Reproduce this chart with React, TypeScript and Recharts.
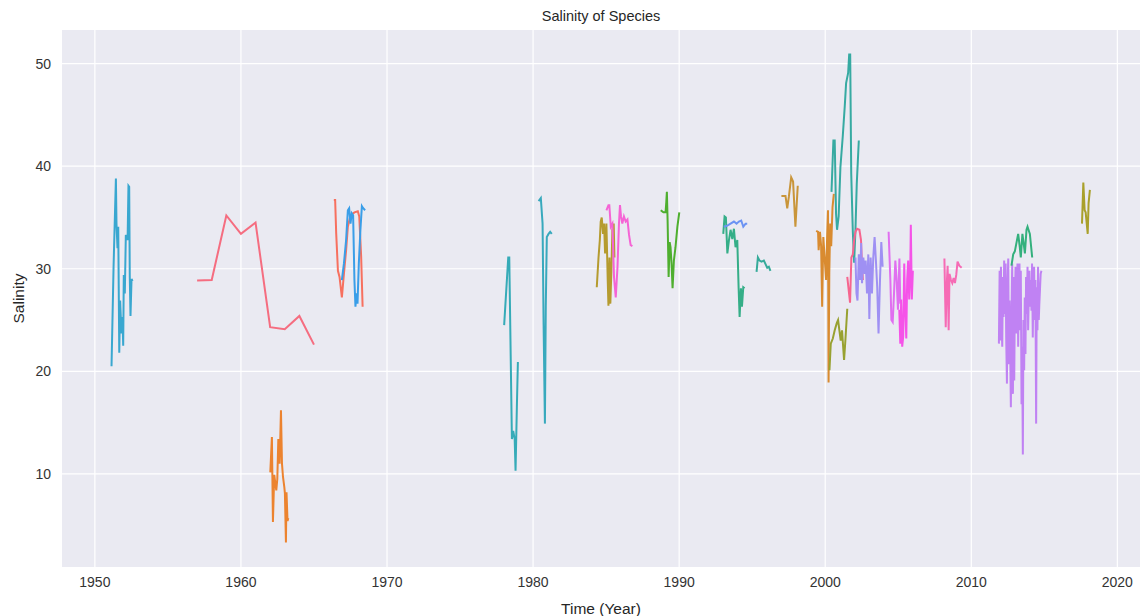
import React from 'react';
import { LineChart, Line, XAxis, YAxis, CartesianGrid } from 'recharts';

// each species: [year, salinity]
const sp1951 = [
  [1951.14, 20.5], [1951.28, 30.2], [1951.44, 38.8], [1951.48, 34.4], [1951.55, 32.0], [1951.6, 34.1],
  [1951.67, 21.8], [1951.73, 26.9], [1951.82, 23.7], [1951.89, 25.3], [1951.94, 22.5], [1951.98, 29.4],
  [1952.05, 27.6], [1952.12, 33.3], [1952.24, 32.8], [1952.3, 38.1], [1952.35, 38.0], [1952.39, 29.2],
  [1952.44, 25.4], [1952.51, 29.0], [1952.58, 28.8],
];
const sp1957 = [
  [1957, 28.85], [1958, 28.9], [1959, 35.2], [1960, 33.4], [1961, 34.5], [1962, 24.3], [1963, 24.1],
  [1964, 25.4], [1965, 22.6],
];
const sp1962 = [
  [1962.01, 10.15], [1962.12, 13.6], [1962.19, 5.3], [1962.28, 9.9], [1962.42, 8.4], [1962.49, 9.5],
  [1962.56, 13.4], [1962.65, 11.0], [1962.74, 16.2], [1962.81, 11.0], [1962.88, 9.7], [1962.97, 8.7],
  [1963.01, 8.1], [1963.08, 3.3], [1963.12, 8.2], [1963.19, 5.4], [1963.24, 5.7],
];
const sp1966 = [
  [1966.36, 36.7], [1966.45, 36.7], [1966.52, 33.5], [1966.64, 29.8], [1966.75, 29.2], [1966.91, 27.2],
  [1967.05, 29.5], [1967.2, 31.8], [1967.32, 34.1], [1967.5, 35.2], [1967.77, 35.5], [1968.0, 35.6],
  [1968.1, 35.1], [1968.23, 31.2], [1968.33, 26.3],
];
const sp1967 = [
  [1966.91, 28.9], [1967.05, 30.5], [1967.2, 32.8], [1967.32, 35.7], [1967.41, 35.9], [1967.5, 34.4],
  [1967.59, 35.4], [1967.68, 35.2], [1967.77, 28.9], [1967.84, 26.3], [1967.91, 27.6], [1967.98, 26.6],
  [1968.07, 30.5], [1968.18, 33.8], [1968.28, 36.1], [1968.37, 35.9], [1968.5, 35.7],
];
const sp1978 = [
  [1978.02, 24.5], [1978.3, 31.1], [1978.37, 31.1], [1978.55, 13.4], [1978.64, 14.2], [1978.74, 13.4],
  [1978.8, 10.3], [1978.89, 16.5], [1978.96, 20.9],
];
const sp1980 = [
  [1980.38, 36.6], [1980.53, 36.9], [1980.65, 34.4], [1980.72, 24.6], [1980.81, 14.9], [1980.87, 26.3],
  [1980.94, 33.1], [1981.06, 33.4], [1981.17, 33.6], [1981.28, 33.4],
];
const sp1984 = [
  [1984.36, 28.2], [1984.48, 31.1], [1984.57, 32.8], [1984.63, 34.6], [1984.7, 35.0], [1984.79, 33.4],
  [1984.86, 34.4], [1984.93, 31.5], [1985.02, 34.4], [1985.11, 28.9], [1985.16, 26.4], [1985.23, 31.1],
  [1985.29, 26.6], [1985.36, 29.8], [1985.43, 33.8], [1985.52, 34.4], [1985.57, 31.1],
];
const sp1985 = [
  [1985.02, 35.7], [1985.16, 36.2], [1985.22, 36.2], [1985.32, 34.1], [1985.43, 34.4], [1985.54, 29.2],
  [1985.66, 27.2], [1985.78, 30.2], [1985.88, 34.4], [1985.95, 36.2], [1986.02, 35.1], [1986.11, 34.4],
  [1986.22, 35.1], [1986.34, 34.6], [1986.46, 34.8], [1986.57, 33.3], [1986.68, 32.3], [1986.8, 32.2],
];
const sp1989 = [
  [1988.74, 35.7], [1988.92, 35.5], [1989.07, 35.5], [1989.12, 36.5], [1989.16, 37.5], [1989.21, 34.7],
  [1989.28, 29.2], [1989.35, 32.6], [1989.41, 32.1], [1989.48, 30.5], [1989.55, 28.1], [1989.64, 30.8],
  [1989.75, 32.1], [1989.88, 34.1], [1990.01, 35.5],
];
const sp1993a = [
  [1993.02, 33.4], [1993.11, 35.1], [1993.2, 35.0], [1993.3, 31.5], [1993.41, 32.8], [1993.52, 33.8],
  [1993.64, 32.9], [1993.75, 33.9], [1993.86, 32.1], [1993.98, 32.8], [1994.07, 28.2], [1994.14, 25.3],
  [1994.23, 28.1], [1994.3, 26.3], [1994.39, 28.2], [1994.48, 28.1],
];
const sp1993b = [
  [1993.06, 34.1], [1993.3, 34.2], [1993.52, 34.4], [1993.75, 34.6], [1993.93, 34.4], [1994.09, 34.6],
  [1994.25, 34.7], [1994.39, 34.1], [1994.55, 34.4], [1994.66, 34.4],
];
const sp1995 = [
  [1995.3, 29.7], [1995.39, 31.1], [1995.5, 30.8], [1995.64, 30.7], [1995.8, 30.8], [1995.93, 30.4],
  [1996.03, 30.1], [1996.14, 30.2], [1996.25, 29.8],
];
const sp1997 = [
  [1997.0, 37.1], [1997.28, 37.1], [1997.4, 35.9], [1997.51, 37.0], [1997.67, 38.9], [1997.8, 38.5],
  [1997.96, 34.1], [1998.12, 38.1],
];
const sp1999 = [
  [1999.38, 33.7], [1999.51, 33.6], [1999.55, 31.8], [1999.64, 33.6], [1999.72, 32.2], [1999.79, 26.3],
  [1999.87, 33.1], [1999.96, 31.1], [2000.06, 28.9], [2000.13, 33.1], [2000.19, 35.7], [2000.23, 18.9],
  [2000.28, 29.6], [2000.34, 34.4], [2000.41, 32.2], [2000.5, 36.0], [2000.59, 37.3],
];
const sp2000a = [
  [2000.29, 20.1], [2000.38, 22.7], [2000.52, 23.2], [2000.65, 24.0], [2000.79, 24.7], [2000.88, 25.0],
  [2000.97, 24.0], [2001.06, 23.0], [2001.15, 24.0], [2001.29, 21.1], [2001.38, 23.0], [2001.51, 26.1],
];
const sp2000b = [
  [2000.43, 37.5], [2000.56, 42.5], [2000.65, 42.5], [2000.74, 35.4], [2000.81, 33.8], [2000.92, 35.1],
  [2001.04, 39.9], [2001.2, 42.9], [2001.34, 45.9], [2001.43, 48.1], [2001.57, 49.1], [2001.64, 50.9],
  [2001.71, 50.9], [2001.78, 39.3], [2001.89, 33.6], [2001.98, 30.6], [2002.07, 33.8], [2002.16, 38.3],
  [2002.3, 42.5],
];
const sp2001 = [
  [2001.51, 29.2], [2001.7, 26.7], [2001.79, 31.1], [2001.89, 31.4], [2001.98, 32.8], [2002.07, 33.6],
  [2002.18, 33.9], [2002.34, 33.8], [2002.45, 32.8], [2002.52, 30.2], [2002.58, 28.9],
];
const sp2002 = [
  [2002.07, 31.1], [2002.14, 27.6], [2002.21, 26.9], [2002.3, 31.4], [2002.39, 28.9], [2002.46, 32.5],
  [2002.52, 28.6], [2002.61, 31.1], [2002.7, 29.5], [2002.77, 30.8], [2002.86, 27.6], [2002.95, 31.4],
  [2003.02, 25.1], [2003.11, 31.1], [2003.2, 27.6], [2003.29, 31.1], [2003.38, 33.1], [2003.47, 30.8],
  [2003.56, 28.2], [2003.65, 23.7], [2003.75, 28.9], [2003.84, 32.6], [2003.93, 30.2],
];
const sp2004 = [
  [2004.34, 33.6], [2004.46, 28.9], [2004.53, 25.0], [2004.62, 24.8], [2004.71, 27.6], [2004.8, 30.8],
  [2004.89, 28.9], [2004.98, 26.0], [2005.08, 31.0], [2005.14, 26.6],
];
const sp2005 = [
  [2005.07, 26.0], [2005.14, 22.7], [2005.2, 27.0], [2005.27, 22.4], [2005.34, 23.4], [2005.41, 30.5],
  [2005.48, 26.0], [2005.55, 23.2], [2005.61, 28.9], [2005.68, 30.8], [2005.75, 27.0], [2005.82, 29.6],
  [2005.86, 34.3], [2005.93, 27.0], [2006.0, 29.8],
];
const sp2008 = [
  [2008.16, 31.0], [2008.25, 24.3], [2008.31, 28.2], [2008.38, 30.3], [2008.45, 24.0], [2008.51, 29.5],
  [2008.61, 28.9], [2008.7, 28.6], [2008.79, 29.1], [2008.88, 28.6], [2008.97, 29.4], [2009.06, 30.7],
  [2009.18, 30.3], [2009.34, 30.1],
];
const sp2012a = [
  [2012.75, 30.3], [2012.87, 31.4], [2012.98, 31.7], [2013.21, 33.4], [2013.32, 32.1], [2013.39, 31.1],
  [2013.5, 33.4], [2013.6, 32.3], [2013.67, 31.5], [2013.78, 33.8], [2013.85, 34.1], [2014.01, 33.4],
  [2014.17, 31.1],
];
const sp2012b = [
  [2011.89, 22.7], [2011.94, 29.8], [2011.98, 23.0], [2012.03, 30.2], [2012.07, 25.0], [2012.12, 22.4],
  [2012.16, 29.2], [2012.21, 25.3], [2012.25, 30.8], [2012.3, 25.6], [2012.35, 30.5], [2012.39, 23.3],
  [2012.44, 18.8], [2012.48, 28.2], [2012.53, 31.0], [2012.57, 20.7], [2012.62, 26.9], [2012.66, 22.4],
  [2012.71, 16.5], [2012.75, 25.0], [2012.8, 30.5], [2012.85, 17.8], [2012.89, 29.2], [2012.94, 19.1],
  [2012.98, 26.3], [2013.03, 30.2], [2013.07, 23.7], [2013.12, 26.6], [2013.16, 30.5], [2013.21, 22.4],
  [2013.25, 28.2], [2013.3, 30.5], [2013.35, 24.0], [2013.39, 29.8], [2013.44, 16.8], [2013.48, 22.4],
  [2013.53, 11.9], [2013.57, 25.0], [2013.62, 20.1], [2013.66, 27.2], [2013.71, 21.7], [2013.75, 29.2],
  [2013.8, 25.6], [2013.85, 30.2], [2013.89, 24.0], [2013.94, 27.6], [2013.98, 29.8], [2014.03, 26.3],
  [2014.07, 28.9], [2014.12, 25.9], [2014.16, 30.5], [2014.21, 23.3], [2014.25, 27.9], [2014.3, 30.2],
  [2014.35, 25.0], [2014.39, 28.9], [2014.44, 14.9], [2014.48, 28.2], [2014.53, 24.0], [2014.57, 30.2],
  [2014.62, 25.0], [2014.66, 26.6], [2014.71, 28.2], [2014.75, 29.5], [2014.8, 29.8],
];
const sp2017 = [
  [2017.58, 34.4], [2017.67, 38.4], [2017.76, 35.7], [2017.83, 35.5], [2017.97, 33.4], [2018.03, 36.4],
  [2018.12, 37.7],
];

const xTicks = [1950, 1960, 1970, 1980, 1990, 2000, 2010, 2020];
const yTicks = [10, 20, 30, 40, 50];

const series = [
  { name: 'sp1951', pts: sp1951, color: '#39a7d0' },
  { name: 'sp1957', pts: sp1957, color: '#f56d80' },
  { name: 'sp1962', pts: sp1962, color: '#ec832f' },
  { name: 'sp1966', pts: sp1966, color: '#f7705f' },
  { name: 'sp1967', pts: sp1967, color: '#3a9ee8' },
  { name: 'sp1978', pts: sp1978, color: '#36abb8' },
  { name: 'sp1980', pts: sp1980, color: '#38a9bd' },
  { name: 'sp1984', pts: sp1984, color: '#b59b2f' },
  { name: 'sp1985', pts: sp1985, color: '#f564d5' },
  { name: 'sp1989', pts: sp1989, color: '#4faf2f' },
  { name: 'sp1993a', pts: sp1993a, color: '#35ae88' },
  { name: 'sp1993b', pts: sp1993b, color: '#6c93f3' },
  { name: 'sp1995', pts: sp1995, color: '#36ab9a' },
  { name: 'sp1997', pts: sp1997, color: '#c9953a' },
  { name: 'sp1999', pts: sp1999, color: '#d98b30' },
  { name: 'sp2000a', pts: sp2000a, color: '#98a131' },
  { name: 'sp2000b', pts: sp2000b, color: '#37aaa2' },
  { name: 'sp2001', pts: sp2001, color: '#f6658f' },
  { name: 'sp2002', pts: sp2002, color: '#9f90f3' },
  { name: 'sp2004', pts: sp2004, color: '#e06ff0' },
  { name: 'sp2005', pts: sp2005, color: '#f553e8' },
  { name: 'sp2008', pts: sp2008, color: '#f66bb5' },
  { name: 'sp2012b', pts: sp2012b, color: '#c082f3' },
  { name: 'sp2012a', pts: sp2012a, color: '#34b07d' },
  { name: 'sp2017', pts: sp2017, color: '#a9a02b' },
];

const font = '"Liberation Sans", Arial, sans-serif';

export default function App() {
  return (
    <div style={{ position: 'absolute', left: 0, top: 0, width: 1140, height: 616, background: '#fff', fontFamily: font }}>
      <div style={{ position: 'absolute', left: 62, width: 1078, top: 8, textAlign: 'center', fontSize: 14.5, color: '#262626' }}>
        Salinity of Species
      </div>
      <LineChart width={1140} height={616} margin={{ top: 30, right: 0, bottom: 0, left: 0 }}>
        <CartesianGrid fill="#eaeaf2" stroke="#ffffff" strokeWidth={1.2} horizontalValues={yTicks} verticalValues={xTicks} />
        <XAxis
          type="number"
          dataKey="x"
          domain={[1947.75, 2021.55]}
          ticks={xTicks}
          allowDataOverflow
          height={49}
          tickLine={false}
          axisLine={false}
          tickMargin={4}
          tick={{ fill: '#333', fontSize: 14 }}
          label={{ value: 'Time (Year)', position: 'insideBottom', offset: 2, fill: '#262626', fontSize: 15.5 }}
        />
        <YAxis
          type="number"
          domain={[0.92, 53.28]}
          ticks={yTicks}
          allowDataOverflow
          width={62}
          tickLine={false}
          axisLine={false}
          tickMargin={5}
          tick={{ fill: '#333', fontSize: 14 }}
          label={{ value: 'Salinity', angle: -90, position: 'insideLeft', offset: 18, fill: '#262626', fontSize: 15.5, style: { textAnchor: 'middle' } }}
        />
        {series.map((s) => (
          <Line
            key={s.name}
            data={s.pts.map(([x, y]) => ({ x, y }))}
            dataKey="y"
            type="linear"
            stroke={s.color}
            strokeWidth={2}
            dot={false}
            activeDot={false}
            isAnimationActive={false}
          />
        ))}
      </LineChart>
    </div>
  );
}
